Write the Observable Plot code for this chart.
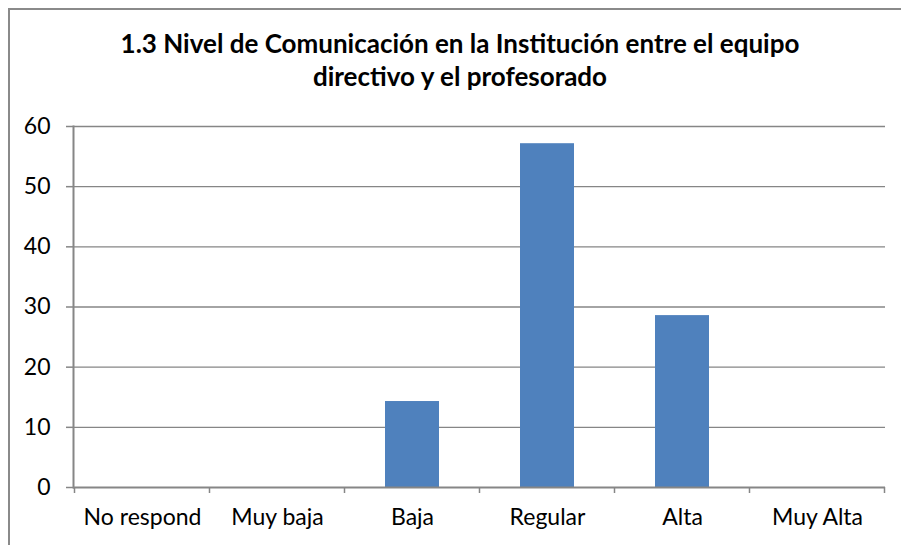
<!DOCTYPE html>
<html>
<head>
<meta charset="utf-8">
<script src="https://cdn.jsdelivr.net/npm/d3@7"></script>
<script src="https://cdn.jsdelivr.net/npm/@observablehq/plot@0.6"></script>
<style>
  html, body { margin: 0; padding: 0; background: #fff; }
  #wrap { position: relative; width: 901px; height: 545px; overflow: hidden; font-family: Lato, "Open Sans", sans-serif; }
  #border { position: absolute; left: 8px; top: 8px; width: 1000px; height: 1000px; border-left: 2px solid #8a8a8a; border-top: 2px solid #8a8a8a; box-sizing: border-box; }
  #title { position: absolute; left: 0; top: 0; width: 901px; height: 100px; }
  #title div { position: absolute; width: 920px; left: 0; text-align: center; font-weight: bold; font-size: 26px; line-height: 26px; color: #000; }
  #chart { position: absolute; left: 0; top: 100px; }
</style>
</head>
<body>
<div id="wrap">
  <div id="border"></div>
  <div id="title">
    <div style="top:30px">1.3 Nivel de Comunicación en la Institución entre el equipo</div>
    <div style="top:63px">directivo y el profesorado</div>
  </div>
  <div id="chart"></div>
</div>
<script>
const categories = ["No respond", "Muy baja", "Baja", "Regular", "Alta", "Muy Alta"];
const values = [0, 0, 14.29, 57.14, 28.57, 0];
const yTicks = [0, 10, 20, 30, 40, 50, 60];

const data = categories.map((c, i) => ({category: c, value: values[i]}));
const gridColor = "#868686";

const plot = Plot.plot({
  width: 901,
  height: 445,
  marginLeft: 73,
  marginRight: 16,
  marginTop: 26,
  marginBottom: 58,
  style: {fontFamily: "Lato, 'Open Sans', sans-serif", fontSize: "23px", color: "#000", background: "transparent"},
  x: {domain: categories, paddingInner: 0.6, paddingOuter: 0.3, label: null},
  y: {domain: [0, 60], label: null},
  marks: [
    Plot.gridY(yTicks.filter(d => d > 0), {stroke: gridColor, strokeOpacity: 1, strokeWidth: 1.3}),
    Plot.barY(data, {x: "category", y: "value", fill: "#4F81BD"}),
    Plot.ruleY([0], {stroke: gridColor, strokeWidth: 2}),
    Plot.axisY({ticks: yTicks, tickSize: 7, tickPadding: 16, stroke: gridColor, strokeWidth: 1.5, fontSize: 23}),
    Plot.axisX({tickSize: 0, tickPadding: 21, fontSize: 23}),
    Plot.frame({anchor: "left", stroke: gridColor, strokeWidth: 2})
  ]
});
document.getElementById("chart").appendChild(plot);

// Category boundary tick marks drawn from the x scale
const xs = plot.scale("x");
const ys = plot.scale("y");
const step = xs.step;
const bw = xs.bandwidth;
const y0 = ys.apply(0);
const bounds = categories.map(c => xs.apply(c) + bw / 2 - step / 2);
bounds.push(xs.apply(categories[categories.length - 1]) + bw / 2 + step / 2);
d3.select(plot).append("g")
  .attr("stroke", gridColor)
  .attr("stroke-width", 1.5)
  .selectAll("line")
  .data(bounds)
  .join("line")
  .attr("x1", d => d).attr("x2", d => d)
  .attr("y1", y0).attr("y2", y0 + 6);
</script>
</body>
</html>
